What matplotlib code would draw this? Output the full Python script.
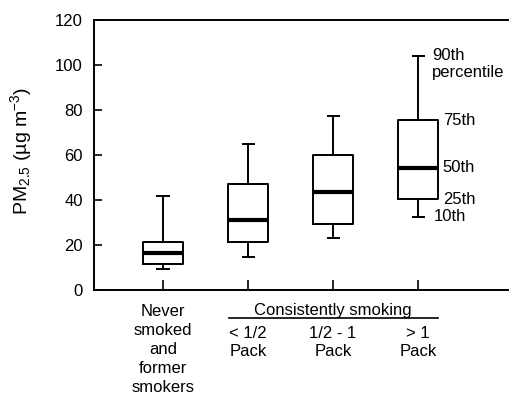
import matplotlib
matplotlib.use("Agg")
import matplotlib.pyplot as plt

plt.rcParams["font.family"] = ["Liberation Sans", "DejaVu Sans"]
plt.rcParams["mathtext.fontset"] = "custom"
plt.rcParams["mathtext.rm"] = "Liberation Sans"
plt.rcParams["mathtext.it"] = "Liberation Sans"

# ── 数据（从图中读取的百分位数）──
groups = ["Never\nsmoked\nand\nformer\nsmokers", "< 1/2\nPack", "1/2 - 1\nPack", "> 1\nPack"]
p10 = [9.2, 14.5, 23.3, 32.6]
p25 = [11.6, 21.5, 29.3, 40.3]
p50 = [16.6, 31.0, 43.7, 54.4]
p75 = [21.5, 47.0, 60.0, 75.4]
p90 = [41.8, 65.0, 77.3, 104.1]
pct_labels = ["10th", "25th", "50th", "75th", "90th"]
yticks = [0, 20, 40, 60, 80, 100, 120]

W, H = 509, 398
fig = plt.figure(figsize=(W / 100, H / 100), dpi=100)
ax = fig.add_axes([94 / W, 1 - 290 / H, 1 - 94 / W, 270 / H])

positions = list(range(1, len(groups) + 1))
stats = []
for i in range(len(groups)):
    stats.append({"whislo": p10[i], "q1": p25[i], "med": p50[i],
                  "q3": p75[i], "whishi": p90[i], "fliers": []})

lw = 1.4
ax.bxp(stats, positions=positions, widths=0.47, showfliers=False,
       boxprops=dict(color="black", linewidth=lw),
       whiskerprops=dict(color="black", linewidth=lw),
       capprops=dict(color="black", linewidth=lw),
       medianprops=dict(color="black", linewidth=3.0),
       capwidths=0.13)

fs = 12
ax.set_xlim(0.188, 5.07)
ax.set_ylim(0, 120)
ax.set_yticks(yticks)
ax.set_xticks(positions)
ax.set_xticklabels([])
ax.tick_params(direction="in", length=6, width=1.2, labelsize=fs, pad=8)
ax.tick_params(axis="x", length=7)
ax.spines["right"].set_visible(False)
for s in ["left", "top", "bottom"]:
    ax.spines[s].set_linewidth(1.4)

# 百分位标注
last = len(groups) - 1
ax.text(4.165, p90[last], pct_labels[4], va="center", ha="left", fontsize=fs)
ax.text(4.165, p90[last] - 7.5, "percentile", va="center", ha="left", fontsize=fs)
ax.text(4.29, p75[last], pct_labels[3], va="center", ha="left", fontsize=fs)
ax.text(4.29, p50[last], pct_labels[2], va="center", ha="left", fontsize=fs)
ax.text(4.29, p25[last], pct_labels[1], va="center", ha="left", fontsize=fs)
ax.text(4.19, p10[last], pct_labels[0], va="center", ha="left", fontsize=fs)

# x 轴分组标签
tr = ax.get_xaxis_transform()
ax.text(positions[0], -0.053, groups[0], transform=tr, ha="center", va="top",
        fontsize=fs, linespacing=1.32)
for i in range(1, len(groups)):
    ax.text(positions[i], -0.133, groups[i], transform=tr, ha="center", va="top",
            fontsize=fs, linespacing=1.22)
ax.text(3.0, -0.05, "Consistently smoking", transform=tr, ha="center", va="top",
        fontsize=fs)
ax.plot([1.776, 4.235], [-0.104, -0.104], transform=tr, color="black",
        linewidth=1.2, clip_on=False)

fig.text(21 / W, 1 - 151 / H, "PM$_{2.5}$ (µg m$^{-3}$)", rotation=90,
         ha="center", va="center", fontsize=14)

fig.savefig("out.png", dpi=100)
